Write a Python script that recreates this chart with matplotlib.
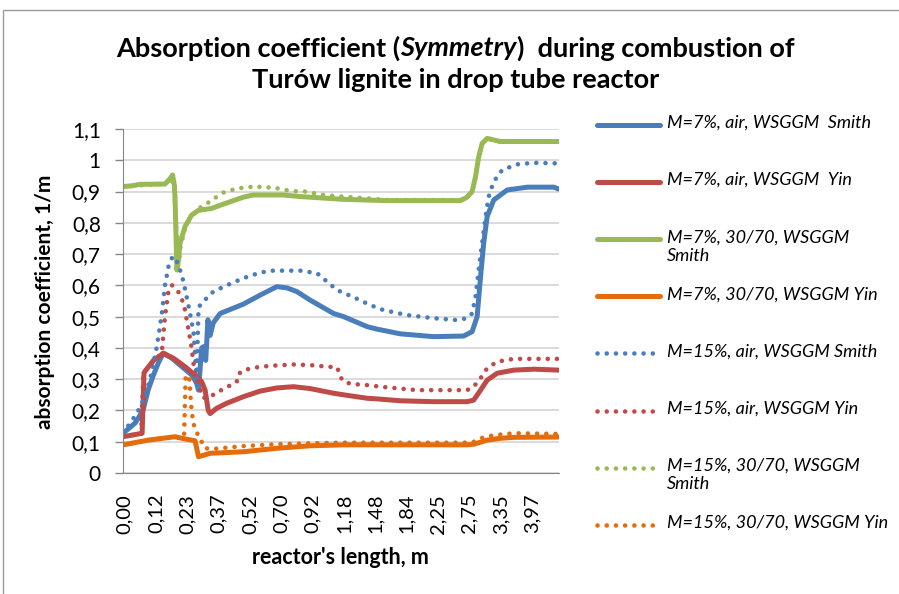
import numpy as np
import matplotlib
matplotlib.use('Agg')
import matplotlib.pyplot as plt
from matplotlib.lines import Line2D
from matplotlib.patches import Rectangle


# Reactor length categories shown on the axis (every 10th sample)
length_labels = ['0,00', '0,12', '0,23', '0,37', '0,52', '0,70', '0,92',
                 '1,18', '1,48', '1,84', '2,25', '2,75', '3,35', '3,97']
y_labels = ['0', '0,1', '0,2', '0,3', '0,4', '0,5', '0,6', '0,7', '0,8', '0,9', '1', '1,1']

# Series: sample index along the reactor and absorption coefficient, 1/m
smith7_air_x = [0, 3.9, 6.4, 8, 9.6, 11.2, 12.8, 15.6, 18.8, 22, 23.5, 24.1, 25.1, 25.7, 26.4,
                27.1, 27.8, 28.8, 31, 38.4, 43.8, 49.1, 52.3, 55.5, 59.7, 67.2, 70.4, 77.9,
                81.1, 88.5, 99.1, 108.7, 111.4, 113, 114.1, 115.1, 116.2, 118.3, 122.6, 129,
                137.5, 139]
smith7_air_y = [0.127, 0.16, 0.2, 0.265, 0.31, 0.35, 0.383, 0.367, 0.34, 0.313, 0.287, 0.265,
                0.40, 0.404, 0.36, 0.49, 0.44, 0.48, 0.51, 0.54, 0.569, 0.596, 0.592, 0.58,
                0.553, 0.51, 0.50, 0.468, 0.46, 0.445, 0.436, 0.438, 0.452, 0.50, 0.628, 0.735,
                0.82, 0.873, 0.905, 0.914, 0.914, 0.908]

yin7_air_x = [0, 6.1, 6.7, 7.0, 9.7, 12.9, 16.1, 19.8, 23, 24.6, 25.1, 26.2, 27.2, 27.8, 29.9,
              33.1, 38.4, 43.8, 49.1, 54.4, 59.7, 67.2, 70.4, 77.9, 81.1, 88.5, 99.1, 109.8,
              111.9, 114.1, 116.2, 119.4, 124.7, 131.1, 139]
yin7_air_y = [0.116, 0.127, 0.32, 0.325, 0.36, 0.383, 0.367, 0.34, 0.313, 0.297, 0.292, 0.265,
              0.2, 0.19, 0.207, 0.223, 0.244, 0.262, 0.272, 0.276, 0.27, 0.255, 0.25, 0.239,
              0.237, 0.231, 0.228, 0.228, 0.233, 0.265, 0.297, 0.319, 0.329, 0.332, 0.329]

smith7_oxy_x = [0, 2.7, 5.4, 13.4, 15.1, 15.8, 16.4, 16.6, 17.2, 17.7, 18.2, 19.8, 21.9, 24.1,
                28.3, 31.5, 38.4, 41.6, 51.2, 56.5, 70.4, 84.2, 107.7, 109.8, 111.4, 112.5,
                113.5, 114.6, 116.2, 120.4, 139]
smith7_oxy_y = [0.916, 0.918, 0.923, 0.924, 0.942, 0.953, 0.92, 0.88, 0.649, 0.68, 0.735, 0.788,
                0.825, 0.84, 0.846, 0.858, 0.882, 0.889, 0.889, 0.884, 0.875, 0.871, 0.871,
                0.882, 0.9, 0.948, 1.011, 1.054, 1.07, 1.06, 1.06]

yin7_oxy_x = [0, 8, 16.6, 18.8, 23, 24.1, 27.8, 38.4, 49.1, 59.7, 70.4, 109.8, 111.9, 116.2,
              120.4, 124.7, 139]
yin7_oxy_y = [0.09, 0.105, 0.116, 0.111, 0.103, 0.052, 0.063, 0.068, 0.079, 0.087, 0.09, 0.09,
              0.092, 0.105, 0.111, 0.114, 0.115]

smith15_air_x = [0, 4.4, 6.5, 8.6, 10.8, 12.4, 13.4, 14.5, 15.6, 16.6, 18.2, 19.3, 20.4, 21.4,
                 22.5, 23, 23.5, 24.1, 25.7, 27.3, 28.8, 33.1, 38.4, 43.8, 47.5, 53.4, 56.5,
                 61.9, 65.1, 68.3, 73.6, 78.9, 83.1, 90.6, 99.1, 106.6, 109.8, 111.4, 112.5,
                 113.5, 114.6, 115.7, 116.7, 118.3, 121, 125.8, 131.1, 139]
smith15_air_y = [0.127, 0.19, 0.233, 0.297, 0.404, 0.51, 0.6, 0.66, 0.687, 0.692, 0.649, 0.612,
                 0.559, 0.51, 0.45, 0.38, 0.30, 0.53, 0.55, 0.564, 0.58, 0.60, 0.623, 0.641,
                 0.647, 0.647, 0.647, 0.639, 0.612, 0.585, 0.562, 0.537, 0.521, 0.505, 0.495,
                 0.489, 0.495, 0.51, 0.564, 0.649, 0.735, 0.82, 0.884, 0.932, 0.969, 0.987,
                 0.992, 0.99]

yin15_air_x = [0, 5.8, 6.5, 8.6, 11.2, 12.5, 13.4, 14.4, 15.6, 17.6, 18.7, 19.8, 20.5, 21.1,
               21.9, 22.4, 22.9, 23.9, 24.9, 25.6, 27.8, 30.4, 33.1, 36.3, 36.8, 38.4, 43.8,
               49.1, 54.4, 59.7, 65.1, 68.3, 69.9, 72.5, 77.9, 83.1, 93.8, 109.8, 111.9, 114.1,
               116.2, 119.4, 124.7, 139]
yin15_air_y = [0.116, 0.127, 0.32, 0.345, 0.37, 0.40, 0.5, 0.575, 0.601, 0.58, 0.559, 0.521,
               0.479, 0.447, 0.40, 0.356, 0.319, 0.287, 0.26, 0.24, 0.244, 0.26, 0.274, 0.292,
               0.316, 0.329, 0.34, 0.344, 0.347, 0.345, 0.34, 0.338, 0.297, 0.285, 0.281,
               0.275, 0.265, 0.265, 0.276, 0.303, 0.335, 0.356, 0.365, 0.365]

smith15_oxy_x = [0, 5.4, 13.4, 15.4, 16.3, 16.9, 17.4, 17.9, 18.4, 19.3, 20, 21.5, 24.1, 26.2,
                 28.3, 30.4, 32.6, 34.7, 36.8, 39.5, 42.2, 44.8, 48, 50.4, 53.4, 56, 58.7,
                 61.3, 64, 67.2, 72.5, 77.9, 84.2, 107.7, 109.8, 111.4, 112.5, 113.5, 114.6,
                 116.2, 120.4, 139]
smith15_oxy_y = [0.916, 0.92, 0.925, 0.945, 0.91, 0.80, 0.72, 0.68, 0.73, 0.76, 0.79, 0.815,
                 0.846, 0.857, 0.873, 0.886, 0.90, 0.905, 0.911, 0.912, 0.918, 0.912, 0.914,
                 0.907, 0.903, 0.9, 0.9, 0.894, 0.889, 0.886, 0.882, 0.878, 0.873, 0.873,
                 0.882, 0.9, 0.948, 1.011, 1.054, 1.07, 1.06, 1.06]

yin15_oxy_x = [0, 8, 16.6, 18.8, 19.5, 20, 21.1, 21.7, 22.4, 23.5, 25.1, 26.2, 28.8, 38.3,
               49.1, 59.7, 70, 110, 112, 114.1, 118.3, 124.7, 139]
yin15_oxy_y = [0.09, 0.105, 0.116, 0.113, 0.12, 0.31, 0.31, 0.22, 0.16, 0.13, 0.10, 0.079,
               0.077, 0.086, 0.092, 0.095, 0.097, 0.097, 0.1, 0.111, 0.121, 0.127, 0.125]

series_names = ['M=7%, air, WSGGM  Smith', 'M=7%, air, WSGGM  Yin',
                'M=7%, 30/70, WSGGM\nSmith', 'M=7%, 30/70, WSGGM Yin',
                'M=15%, air, WSGGM Smith', 'M=15%, air, WSGGM Yin',
                'M=15%, 30/70, WSGGM\nSmith', 'M=15%, 30/70, WSGGM Yin']
series_x = [smith7_air_x, yin7_air_x, smith7_oxy_x, yin7_oxy_x,
            smith15_air_x, yin15_air_x, smith15_oxy_x, yin15_oxy_x]
series_y = [smith7_air_y, yin7_air_y, smith7_oxy_y, yin7_oxy_y,
            smith15_air_y, yin15_air_y, smith15_oxy_y, yin15_oxy_y]

colors = ['#4A7EBB', '#BE4B48', '#98B954', '#E46C0A'] * 2
dotted = [False] * 4 + [True] * 4

plt.rcParams['font.family'] = ['Lato', 'DejaVu Sans']

W, H = 899, 594
fig = plt.figure(figsize=(W / 100, H / 100), dpi=100)
ax = fig.add_axes([123 / W, 1 - 473 / H, 435.6 / W, 344 / H])

# chart area frame
fig.patches.append(Rectangle((3 / W, -0.1), 1.2, 1.1 - 10 / H, transform=fig.transFigure,
                             fill=False, edgecolor='#9a9a9a', lw=1.0))


def line_kw(color, is_dotted):
    if is_dotted:
        return dict(color=color, lw=3.3, linestyle=(0, (0.01, 2.0)), dash_capstyle='round')
    return dict(color=color, lw=3.6, solid_capstyle='round', solid_joinstyle='round')


for xs, ys, c, d in zip(series_x, series_y, colors, dotted):
    ax.plot(xs, ys, **line_kw(c, d))

ax.set_xlim(0, 139)
ax.set_ylim(0, 1.1)
ax.set_yticks(np.arange(len(y_labels)) * 0.1)
ax.set_yticklabels(y_labels, fontsize=15)
ax.set_xticks(np.arange(len(length_labels)) * 10 + 0.5)
ax.set_xticklabels(length_labels, rotation=90, fontsize=14.5)
ax.tick_params(axis='x', length=0, pad=15)
ax.tick_params(axis='y', length=6, width=1, color='#868686', pad=10, direction='out')
ax.grid(axis='y', color='#d4d4d4', lw=1.2)
ax.set_axisbelow(True)
for side in ['top', 'right']:
    ax.spines[side].set_visible(False)
ax.spines['left'].set_color('#868686')
ax.spines['bottom'].set_color('#868686')

# axis titles
fig.text(45 / W, 1 - 302 / H, 'absorption coefficient, 1/m', fontsize=15, fontweight='bold',
         rotation=90, rotation_mode='anchor', ha='center', va='center')
fig.text(340 / W, 1 - 557 / H, "reactor's length, m", fontsize=15.5, fontweight='bold',
         ha='center', va='center')

# title with italic word
renderer = fig.canvas.get_renderer()
parts = [('Absorption coefficient (', 'normal'), ('Symmetry', 'italic'),
         (')  during combustion of', 'normal')]
texts = [fig.text(0, 1 - 48 / H, s, fontsize=19.5, fontweight='bold', fontstyle=st,
                  ha='left', va='center') for s, st in parts]
widths = [t.get_window_extent(renderer).width for t in texts]
x0 = 455 - sum(widths) / 2
for t, w in zip(texts, widths):
    t.set_x(x0 / W)
    x0 += w
fig.text(456 / W, 1 - 80 / H, 'Turów lignite in drop tube reactor', fontsize=19.5,
         fontweight='bold', ha='center', va='center')

# legend
for i, (name, c, d) in enumerate(zip(series_names, colors, dotted)):
    yc = 1 - (125 + 57.1 * i) / H
    fig.add_artist(Line2D([597 / W, 660 / W], [yc, yc], transform=fig.transFigure,
                          **line_kw(c, d)))
    fig.text(667 / W, yc + 10 / H, name, fontsize=13, fontstyle='italic',
             ha='left', va='top', linespacing=1.2)

fig.savefig('out.png', dpi=100)
